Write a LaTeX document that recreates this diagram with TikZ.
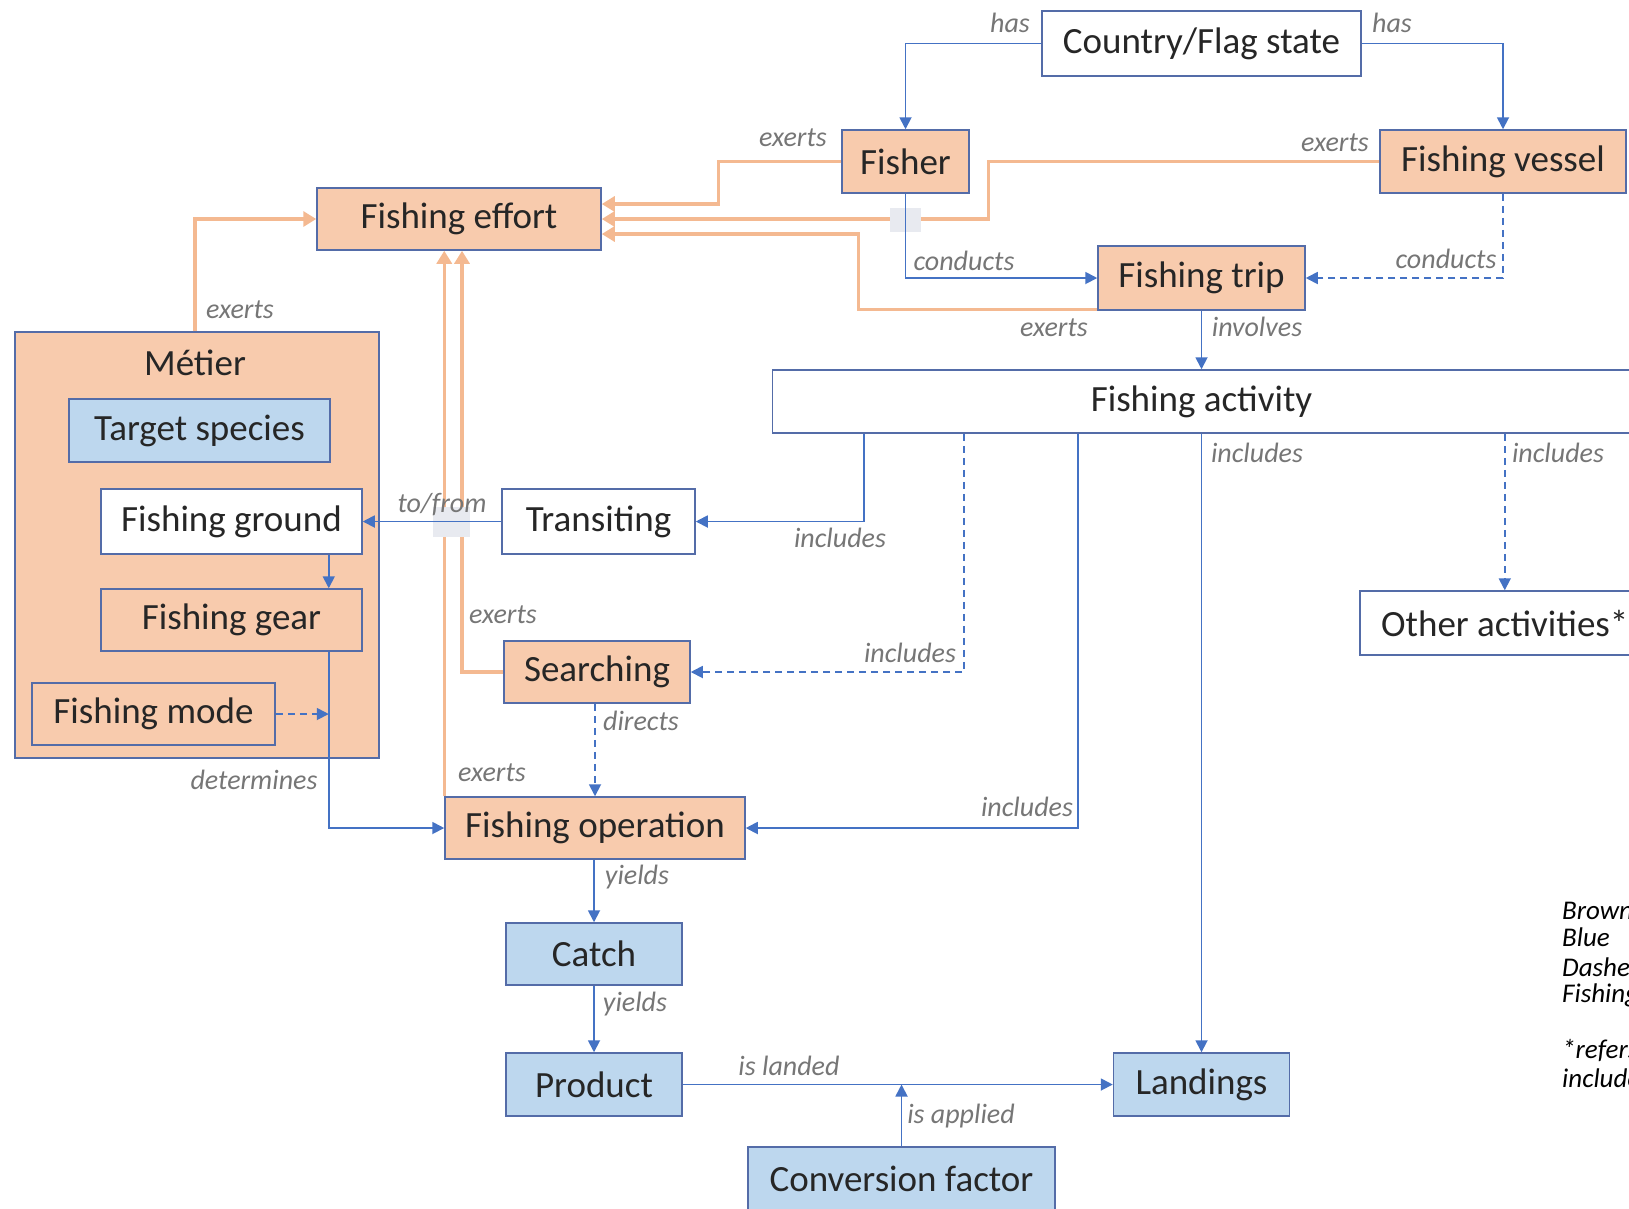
\documentclass[tikz,border=0pt]{standalone}
\usepackage{fontspec}
\setmainfont{Carlito}
\usetikzlibrary{arrows.meta,positioning,calc}

\definecolor{boxline}{RGB}{84,108,168}
\definecolor{lineblue}{RGB}{68,114,196}
\definecolor{lineorange}{RGB}{244,185,145}
\definecolor{fillorange}{RGB}{248,203,173}
\definecolor{fillblue}{RGB}{189,215,238}
\definecolor{lblgray}{RGB}{118,118,118}
\definecolor{patchgray}{RGB}{232,234,240}

\tikzset{
  box/.style={draw=boxline,line width=1.5pt,inner sep=0pt,text=black!85,font=\fontsize{37}{40}\selectfont},
  obox/.style={box,fill=fillorange},
  bbox/.style={box,fill=fillblue},
  wbox/.style={box,fill=white},
  lbl/.style={inner sep=0pt,text=lblgray,font=\fontsize{28}{30}\selectfont\itshape},
  legend/.style={anchor=west,inner sep=0pt,text=black,font=\fontsize{27}{30}\selectfont\itshape},
  barrow/.style={draw=lineblue,line width=1.8pt,-{Triangle[length=12pt,width=12pt]}},
  darrow/.style={barrow,dash pattern=on 7pt off 5pt},
  oarrow/.style={draw=lineorange,line width=3.5pt,-{Triangle[length=13pt,width=15pt]}}
}

\begin{document}
\begin{tikzpicture}[x=1pt,y=-1pt]
\useasboundingbox (0,0) rectangle (1629,1208);
\clip (0,0) rectangle (1629,1208);

% metier group
\node[obox,minimum width=364pt,minimum height=426pt] (metier) at (197,545) {};
\node[inner sep=0pt,text=black!85,font=\fontsize{37}{40}\selectfont] (metiertxt) at (195,363) {Métier};
\node[bbox,minimum width=261pt,minimum height=63pt] (target) at (199.5,430.5) {Target species};
\node[wbox,minimum width=261pt,minimum height=65pt] (ground) at (231.5,521.5) {Fishing ground};
\node[obox,minimum width=261pt,minimum height=62pt] (gear) at (231.5,620) {Fishing gear};
\node[obox,minimum width=243pt,minimum height=62pt] (mode) at (153.5,714) {Fishing mode};

\node[wbox,minimum width=319pt,minimum height=65pt] (country) at (1201.5,43.5) {Country/Flag state};
\node[obox,minimum width=127pt,minimum height=63pt] (fisher) at (905.5,161.5) {Fisher};
\node[obox,minimum width=246pt,minimum height=63pt] (vessel) at (1503,161.5) {Fishing vessel};
\node[obox,minimum width=284pt,minimum height=62pt] (effort) at (459,219) {Fishing effort};
\node[obox,minimum width=207pt,minimum height=64pt] (trip) at (1201.5,278) {Fishing trip};
\node[wbox,minimum width=858pt,minimum height=63pt] (activity) at (1201.5,401.5) {Fishing activity};
\node[wbox,minimum width=193pt,minimum height=65pt] (transit) at (598.5,521.5) {Transiting};
\node[obox,minimum width=186pt,minimum height=62pt] (search) at (597,672) {Searching};
\node[obox,minimum width=300pt,minimum height=62pt] (operation) at (595,828) {Fishing operation};
\node[wbox,anchor=west,minimum width=290pt,minimum height=64pt] (other) at (1359,623) {Other activities*};
\node[bbox,minimum width=176pt,minimum height=62pt] (catch) at (594,954) {Catch};
\node[bbox,minimum width=176pt,minimum height=63pt] (product) at (594,1084.5) {Product};
\node[bbox,minimum width=176pt,minimum height=63pt] (landings) at (1201.5,1084.5) {Landings};
\node[bbox,minimum width=307pt,minimum height=64pt] (conv) at (901.5,1179) {Conversion factor};

\coordinate (groundout) at ([xshift=-34pt]ground.south east);
\coordinate (gearout) at ([xshift=-34pt]gear.south east);

% effort lines
\draw[oarrow] ([xshift=-2pt]metier.north) |- (effort.west);
\draw[oarrow] (fisher.west) -- ++(-123,0) |- ([yshift=15pt]effort.east);
\draw[oarrow] (vessel.west) -- ++(-391,0) |- (effort.east);
\draw[oarrow] ([yshift=1.5pt]trip.south west) -- ++(-239,0) |- ([yshift=-15pt]effort.east);
\draw[oarrow] (search.west) -| ([xshift=3pt]effort.south);
\draw[oarrow] (operation.north west) -- (operation.north west |- effort.south);

\fill[patchgray] (890,208) rectangle (921,232);
\fill[patchgray] (433,507) rectangle (470,537);

\draw[barrow] (country.west) -| (fisher.north);
\draw[barrow] (country.east) -| (vessel.north);
\draw[barrow] (fisher.south) |- (trip.west);
\draw[darrow] (vessel.south) |- (trip.east);
\draw[barrow] (trip.south) -- (activity.north);
\draw[barrow] ([xshift=92pt]activity.south west) |- (transit.east);
\draw[darrow] ([xshift=192pt]activity.south west) |- (search.east);
\draw[barrow] ([xshift=306pt]activity.south west) |- (operation.east);
\draw[barrow] (landings.north |- activity.south) -- (landings.north);
\draw[darrow] (other.north |- activity.south) -- (other.north);
\draw[barrow] (transit.west) -- (ground.east);
\draw[barrow] (groundout) -- (groundout |- gear.north);
\draw[barrow] (gearout) |- (operation.west);
\draw[darrow] (mode.east) -- (mode.east -| gearout);
\draw[darrow] (search.south -| operation.north) -- (operation.north);
\draw[barrow] (catch.north |- operation.south) -- (catch.north);
\draw[barrow] (catch.south) -- (product.north);
\draw[barrow] (product.east) -- (landings.west);
\draw[barrow] (conv.north) -- (conv.north |- product.east);

% labels
\node[lbl] (has1) at (1010,23) {has};
\node[lbl] (has2) at (1392,23) {has};
\node[lbl] (ex1) at (793,138) {exerts};
\node[lbl] (ex2) at (1335,143) {exerts};
\node[lbl] (con1) at (964,261) {conducts};
\node[lbl] (con2) at (1446,259) {conducts};
\node[lbl] (ex3) at (1054,328) {exerts};
\node[lbl] (inv) at (1257,327) {involves};
\node[lbl] (ex4) at (240,310) {exerts};
\node[lbl] (inc1) at (1257,453) {includes};
\node[lbl] (inc2) at (1558,453) {includes};
\node[lbl] (tofrom) at (442,505) {to/from};
\node[lbl] (inc3) at (840,538) {includes};
\node[lbl] (ex5) at (503,615) {exerts};
\node[lbl] (inc4) at (910,653) {includes};
\node[lbl] (dir) at (641,721) {directs};
\node[lbl] (ex6) at (492,773) {exerts};
\node[lbl] (det) at (254,780) {determines};
\node[lbl] (inc5) at (1027,807) {includes};
\node[lbl] (yl1) at (637,877) {yields};
\node[lbl] (yl2) at (635,1004) {yields};
\node[lbl] (land) at (789,1066) {is landed};
\node[lbl] (appl) at (961,1116) {is applied};

% legend, cut at the edge
\node[legend] (lg1) at (1562,911) {Brown};
\node[legend] (lg2) at (1562,937) {Blue};
\node[legend] (lg3) at (1562,967) {Dashed};
\node[legend] (lg4) at (1562,995) {Fishing};
\node[legend] (lg5) at (1562,1050) {*refers};
\node[legend] (lg6) at (1562,1078) {includes};
\end{tikzpicture}
\end{document}
